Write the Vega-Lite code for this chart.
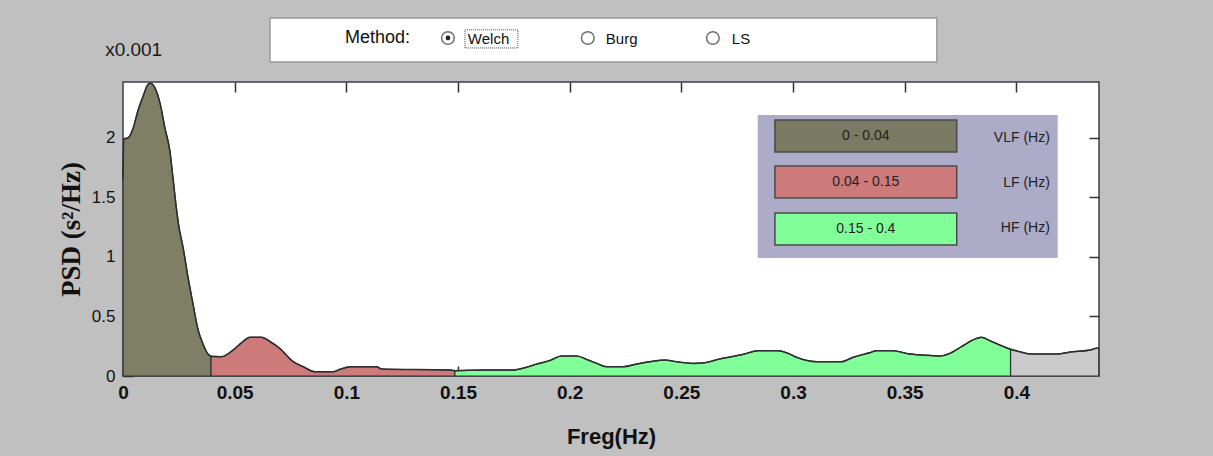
{
  "$schema": "https://vega.github.io/schema/vega-lite/v6.json",
  "width": 976,
  "height": 294,
  "autosize": {"type": "none"},
  "padding": {"left": 123, "top": 82, "right": 114, "bottom": 80},
  "background": "#c0c0c0",
  "config": {
    "view": {"fill": "white", "stroke": "#3c3c50", "strokeWidth": 1.5},
    "font": "Liberation Sans"
  },
  "datasets": {
    "psd": [
      {"f": 0, "psd": 1.66, "band": "VLF"},
      {"f": 0.0003, "psd": 1.99, "band": "VLF"},
      {"f": 0.0022, "psd": 2.0, "band": "VLF"},
      {"f": 0.0045, "psd": 2.08, "band": "VLF"},
      {"f": 0.0067, "psd": 2.23, "band": "VLF"},
      {"f": 0.009, "psd": 2.35, "band": "VLF"},
      {"f": 0.0112, "psd": 2.45, "band": "VLF"},
      {"f": 0.0124, "psd": 2.46, "band": "VLF"},
      {"f": 0.0148, "psd": 2.4, "band": "VLF"},
      {"f": 0.0166, "psd": 2.29, "band": "VLF"},
      {"f": 0.0188, "psd": 2.08, "band": "VLF"},
      {"f": 0.021, "psd": 1.89, "band": "VLF"},
      {"f": 0.0224, "psd": 1.66, "band": "VLF"},
      {"f": 0.0237, "psd": 1.44, "band": "VLF"},
      {"f": 0.0249, "psd": 1.27, "band": "VLF"},
      {"f": 0.0269, "psd": 1.08, "band": "VLF"},
      {"f": 0.0291, "psd": 0.83, "band": "VLF"},
      {"f": 0.0313, "psd": 0.61, "band": "VLF"},
      {"f": 0.0336, "psd": 0.39, "band": "VLF"},
      {"f": 0.0358, "psd": 0.27, "band": "VLF"},
      {"f": 0.0375, "psd": 0.2, "band": "VLF"},
      {"f": 0.0394, "psd": 0.165, "band": "VLF"},
      {"f": 0.0394, "psd": 0.165, "band": "LF"},
      {"f": 0.0442, "psd": 0.162, "band": "LF"},
      {"f": 0.0494, "psd": 0.22, "band": "LF"},
      {"f": 0.0531, "psd": 0.28, "band": "LF"},
      {"f": 0.0568, "psd": 0.325, "band": "LF"},
      {"f": 0.0621, "psd": 0.325, "band": "LF"},
      {"f": 0.0658, "psd": 0.29, "band": "LF"},
      {"f": 0.0703, "psd": 0.23, "band": "LF"},
      {"f": 0.0762, "psd": 0.12, "band": "LF"},
      {"f": 0.0807, "psd": 0.078, "band": "LF"},
      {"f": 0.0859, "psd": 0.036, "band": "LF"},
      {"f": 0.0941, "psd": 0.036, "band": "LF"},
      {"f": 0.0971, "psd": 0.056, "band": "LF"},
      {"f": 0.1024, "psd": 0.078, "band": "LF"},
      {"f": 0.1135, "psd": 0.078, "band": "LF"},
      {"f": 0.1158, "psd": 0.059, "band": "LF"},
      {"f": 0.1464, "psd": 0.05, "band": "LF"},
      {"f": 0.1486, "psd": 0.045, "band": "LF"},
      {"f": 0.1486, "psd": 0.045, "band": "HF"},
      {"f": 0.1598, "psd": 0.05, "band": "HF"},
      {"f": 0.1747, "psd": 0.05, "band": "HF"},
      {"f": 0.18, "psd": 0.07, "band": "HF"},
      {"f": 0.1852, "psd": 0.1, "band": "HF"},
      {"f": 0.1911, "psd": 0.13, "band": "HF"},
      {"f": 0.1964, "psd": 0.168, "band": "HF"},
      {"f": 0.2031, "psd": 0.168, "band": "HF"},
      {"f": 0.2083, "psd": 0.134, "band": "HF"},
      {"f": 0.212, "psd": 0.107, "band": "HF"},
      {"f": 0.2165, "psd": 0.078, "band": "HF"},
      {"f": 0.224, "psd": 0.078, "band": "HF"},
      {"f": 0.2299, "psd": 0.1, "band": "HF"},
      {"f": 0.2359, "psd": 0.12, "band": "HF"},
      {"f": 0.2426, "psd": 0.134, "band": "HF"},
      {"f": 0.2479, "psd": 0.12, "band": "HF"},
      {"f": 0.2553, "psd": 0.106, "band": "HF"},
      {"f": 0.2605, "psd": 0.112, "band": "HF"},
      {"f": 0.2672, "psd": 0.143, "band": "HF"},
      {"f": 0.2777, "psd": 0.182, "band": "HF"},
      {"f": 0.2844, "psd": 0.213, "band": "HF"},
      {"f": 0.2933, "psd": 0.213, "band": "HF"},
      {"f": 0.2978, "psd": 0.19, "band": "HF"},
      {"f": 0.3016, "psd": 0.157, "band": "HF"},
      {"f": 0.3105, "psd": 0.12, "band": "HF"},
      {"f": 0.3217, "psd": 0.12, "band": "HF"},
      {"f": 0.3269, "psd": 0.157, "band": "HF"},
      {"f": 0.3344, "psd": 0.196, "band": "HF"},
      {"f": 0.3373, "psd": 0.213, "band": "HF"},
      {"f": 0.3448, "psd": 0.213, "band": "HF"},
      {"f": 0.3508, "psd": 0.19, "band": "HF"},
      {"f": 0.3582, "psd": 0.176, "band": "HF"},
      {"f": 0.3657, "psd": 0.168, "band": "HF"},
      {"f": 0.3702, "psd": 0.19, "band": "HF"},
      {"f": 0.3754, "psd": 0.246, "band": "HF"},
      {"f": 0.3799, "psd": 0.297, "band": "HF"},
      {"f": 0.3844, "psd": 0.325, "band": "HF"},
      {"f": 0.3881, "psd": 0.297, "band": "HF"},
      {"f": 0.3926, "psd": 0.26, "band": "HF"},
      {"f": 0.3974, "psd": 0.224, "band": "HF"},
      {"f": 0.3974, "psd": 0.224, "band": "rest"},
      {"f": 0.4015, "psd": 0.204, "band": "rest"},
      {"f": 0.406, "psd": 0.185, "band": "rest"},
      {"f": 0.4179, "psd": 0.185, "band": "rest"},
      {"f": 0.4254, "psd": 0.204, "band": "rest"},
      {"f": 0.4329, "psd": 0.218, "band": "rest"},
      {"f": 0.4359, "psd": 0.233, "band": "rest"},
      {"f": 0.4369, "psd": 0.235, "band": "rest"}
    ]
  },
  "layer": [
    {
      "data": {"name": "psd"},
      "mark": {"type": "area", "stroke": "#303030", "strokeWidth": 1.2, "opacity": 1, "interpolate": "monotone"},
      "encoding": {
        "x": {
          "field": "f", "type": "quantitative",
          "scale": {"domain": [0, 0.437], "nice": false, "zero": false},
          "axis": {
            "orient": "bottom", "values": [0, 0.05, 0.1, 0.15, 0.2, 0.25, 0.3, 0.35, 0.4],
            "format": "~g", "domain": false, "grid": false,
            "tickSize": -10, "tickColor": "#333333", "tickWidth": 1.5,
            "labelFont": "Liberation Sans", "labelFontSize": 19, "labelFontWeight": "bold",
            "labelColor": "#111111", "labelPadding": 17, "labelFlush": false, "labelOverlap": false,
            "title": "Freg(Hz)", "titleFont": "Liberation Sans", "titleFontSize": 22,
            "titleFontWeight": "bold", "titleColor": "#111111", "titlePadding": 24
          }
        },
        "y": {
          "field": "psd", "type": "quantitative", "stack": null,
          "scale": {"domain": [0, 2.47], "nice": false, "zero": false},
          "axis": {
            "orient": "left", "values": [0, 0.5, 1, 1.5, 2], "format": "~g",
            "domain": false, "grid": false,
            "tickSize": -10, "tickColor": "#333333", "tickWidth": 1.5,
            "labelFont": "Liberation Sans", "labelFontSize": 17, "labelColor": "#111111",
            "labelPadding": 18, "labelFlush": false, "labelOverlap": false,
            "title": "PSD (s²/Hz)", "titleFont": "Liberation Serif", "titleFontSize": 27,
            "titleFontWeight": "bold", "titleColor": "#111111", "titlePadding": 6
          }
        },
        "color": {
          "field": "band", "type": "nominal",
          "scale": {"domain": ["VLF", "LF", "HF", "rest"], "range": ["#7f7f66", "#cc7a7a", "#80ff98", "#cbcbcb"]},
          "legend": null
        }
      }
    },
    {
      "data": {"name": "psd"},
      "mark": {"type": "line", "color": "#2e2e2e", "strokeWidth": 1.5, "interpolate": "monotone"},
      "encoding": {
        "x": {
          "field": "f", "type": "quantitative",
          "axis": {"orient": "top", "values": [0.05, 0.1, 0.15, 0.2, 0.25, 0.3, 0.35, 0.4], "labels": false, "domain": false, "grid": false, "tickSize": -10, "tickColor": "#333333", "tickWidth": 1.5, "title": null}
        },
        "y": {
          "field": "psd", "type": "quantitative", "stack": null,
          "axis": {"orient": "right", "values": [0.5, 1, 1.5, 2], "labels": false, "domain": false, "grid": false, "tickSize": -10, "tickColor": "#333333", "tickWidth": 1.5, "title": null}
        }
      }
    },
    {
      "data": {"values": [{}]},
      "mark": {"type": "text", "text": "x0.001", "align": "left", "baseline": "middle", "fontSize": 19, "color": "#1a1a1a"},
      "encoding": {
        "x": {"datum": -0.008, "type": "quantitative", "axis": null},
        "y": {"datum": 2.74, "type": "quantitative", "axis": null}
      }
    },
    {
      "data": {"values": [{}]},
      "mark": {"type": "rect", "fill": "white", "stroke": "#9a9a9a", "strokeWidth": 1.5},
      "encoding": {
        "x": {"datum": 0.0658, "type": "quantitative", "axis": null},
        "x2": {"datum": 0.3644},
        "y": {"datum": 3.008, "type": "quantitative", "axis": null},
        "y2": {"datum": 2.639}
      }
    },
    {
      "data": {"values": [{}]},
      "mark": {"type": "text", "text": "Method:", "align": "left", "baseline": "middle", "fontSize": 18, "color": "#111111"},
      "encoding": {
        "x": {"datum": 0.0994, "type": "quantitative", "axis": null},
        "y": {"datum": 2.84, "type": "quantitative", "axis": null}
      }
    },
    {
      "data": {"values": [{}]},
      "mark": {"type": "point", "shape": "circle", "filled": true, "fill": "white", "stroke": "#707070", "strokeWidth": 1.5, "size": 160, "opacity": 1},
      "encoding": {
        "x": {"datum": 0.1455, "type": "quantitative", "axis": null},
        "y": {"datum": 2.84, "type": "quantitative", "axis": null}
      }
    },
    {
      "data": {"values": [{}]},
      "mark": {"type": "point", "shape": "circle", "filled": true, "fill": "white", "stroke": "#707070", "strokeWidth": 1.5, "size": 160, "opacity": 1},
      "encoding": {
        "x": {"datum": 0.2081, "type": "quantitative", "axis": null},
        "y": {"datum": 2.84, "type": "quantitative", "axis": null}
      }
    },
    {
      "data": {"values": [{}]},
      "mark": {"type": "point", "shape": "circle", "filled": true, "fill": "white", "stroke": "#707070", "strokeWidth": 1.5, "size": 160, "opacity": 1},
      "encoding": {
        "x": {"datum": 0.2641, "type": "quantitative", "axis": null},
        "y": {"datum": 2.84, "type": "quantitative", "axis": null}
      }
    },
    {
      "data": {"values": [{}]},
      "mark": {"type": "point", "shape": "circle", "filled": true, "color": "#222222", "size": 22, "opacity": 1},
      "encoding": {
        "x": {"datum": 0.1455, "type": "quantitative", "axis": null},
        "y": {"datum": 2.84, "type": "quantitative", "axis": null}
      }
    },
    {
      "data": {"values": [{}]},
      "mark": {"type": "rect", "fill": null, "fillOpacity": 0, "stroke": "#444444", "strokeWidth": 1, "strokeDash": [1, 1]},
      "encoding": {
        "x": {"datum": 0.1531, "type": "quantitative", "axis": null},
        "x2": {"datum": 0.1768},
        "y": {"datum": 2.908, "type": "quantitative", "axis": null},
        "y2": {"datum": 2.756}
      }
    },
    {
      "data": {"values": [{}]},
      "mark": {"type": "text", "text": "Welch", "align": "left", "baseline": "middle", "fontSize": 15, "color": "#111111"},
      "encoding": {
        "x": {"datum": 0.1544, "type": "quantitative", "axis": null},
        "y": {"datum": 2.83, "type": "quantitative", "axis": null}
      }
    },
    {
      "data": {"values": [{}]},
      "mark": {"type": "text", "text": "Burg", "align": "left", "baseline": "middle", "fontSize": 15, "color": "#111111"},
      "encoding": {
        "x": {"datum": 0.2162, "type": "quantitative", "axis": null},
        "y": {"datum": 2.83, "type": "quantitative", "axis": null}
      }
    },
    {
      "data": {"values": [{}]},
      "mark": {"type": "text", "text": "LS", "align": "left", "baseline": "middle", "fontSize": 15, "color": "#111111"},
      "encoding": {
        "x": {"datum": 0.2726, "type": "quantitative", "axis": null},
        "y": {"datum": 2.83, "type": "quantitative", "axis": null}
      }
    },
    {
      "data": {"values": [{}]},
      "mark": {"type": "rect", "fill": "#acacc8", "stroke": null},
      "encoding": {
        "x": {"datum": 0.2842, "type": "quantitative", "axis": null},
        "x2": {"datum": 0.4185},
        "y": {"datum": 2.193, "type": "quantitative", "axis": null},
        "y2": {"datum": 0.992}
      }
    },
    {
      "data": {"values": [{}]},
      "mark": {"type": "rect", "fill": "#7b7b63", "stroke": "#4a4a4a", "strokeWidth": 1.5},
      "encoding": {
        "x": {"datum": 0.2919, "type": "quantitative", "axis": null},
        "x2": {"datum": 0.3733},
        "y": {"datum": 2.151, "type": "quantitative", "axis": null},
        "y2": {"datum": 1.882}
      }
    },
    {
      "data": {"values": [{}]},
      "mark": {"type": "rect", "fill": "#cc7a7a", "stroke": "#4a4a4a", "strokeWidth": 1.5},
      "encoding": {
        "x": {"datum": 0.2919, "type": "quantitative", "axis": null},
        "x2": {"datum": 0.3733},
        "y": {"datum": 1.765, "type": "quantitative", "axis": null},
        "y2": {"datum": 1.496}
      }
    },
    {
      "data": {"values": [{}]},
      "mark": {"type": "rect", "fill": "#80ff98", "stroke": "#4a4a4a", "strokeWidth": 1.5},
      "encoding": {
        "x": {"datum": 0.2919, "type": "quantitative", "axis": null},
        "x2": {"datum": 0.3733},
        "y": {"datum": 1.37, "type": "quantitative", "axis": null},
        "y2": {"datum": 1.101}
      }
    },
    {
      "data": {"values": [{}]},
      "mark": {"type": "text", "text": "0 - 0.04", "align": "center", "baseline": "middle", "fontSize": 14, "color": "#222222"},
      "encoding": {
        "x": {"datum": 0.3326, "type": "quantitative", "axis": null},
        "y": {"datum": 2.017, "type": "quantitative", "axis": null}
      }
    },
    {
      "data": {"values": [{}]},
      "mark": {"type": "text", "text": "0.04 - 0.15", "align": "center", "baseline": "middle", "fontSize": 14, "color": "#222222"},
      "encoding": {
        "x": {"datum": 0.3326, "type": "quantitative", "axis": null},
        "y": {"datum": 1.63, "type": "quantitative", "axis": null}
      }
    },
    {
      "data": {"values": [{}]},
      "mark": {"type": "text", "text": "0.15 - 0.4", "align": "center", "baseline": "middle", "fontSize": 14, "color": "#222222"},
      "encoding": {
        "x": {"datum": 0.3326, "type": "quantitative", "axis": null},
        "y": {"datum": 1.235, "type": "quantitative", "axis": null}
      }
    },
    {
      "data": {"values": [{}]},
      "mark": {"type": "text", "text": "VLF (Hz)", "align": "right", "baseline": "middle", "fontSize": 14, "color": "#222222"},
      "encoding": {
        "x": {"datum": 0.415, "type": "quantitative", "axis": null},
        "y": {"datum": 2.0, "type": "quantitative", "axis": null}
      }
    },
    {
      "data": {"values": [{}]},
      "mark": {"type": "text", "text": "LF (Hz)", "align": "right", "baseline": "middle", "fontSize": 14, "color": "#222222"},
      "encoding": {
        "x": {"datum": 0.415, "type": "quantitative", "axis": null},
        "y": {"datum": 1.622, "type": "quantitative", "axis": null}
      }
    },
    {
      "data": {"values": [{}]},
      "mark": {"type": "text", "text": "HF (Hz)", "align": "right", "baseline": "middle", "fontSize": 14, "color": "#222222"},
      "encoding": {
        "x": {"datum": 0.415, "type": "quantitative", "axis": null},
        "y": {"datum": 1.244, "type": "quantitative", "axis": null}
      }
    }
  ],
  "resolve": {"axis": {"x": "independent", "y": "independent"}}
}
